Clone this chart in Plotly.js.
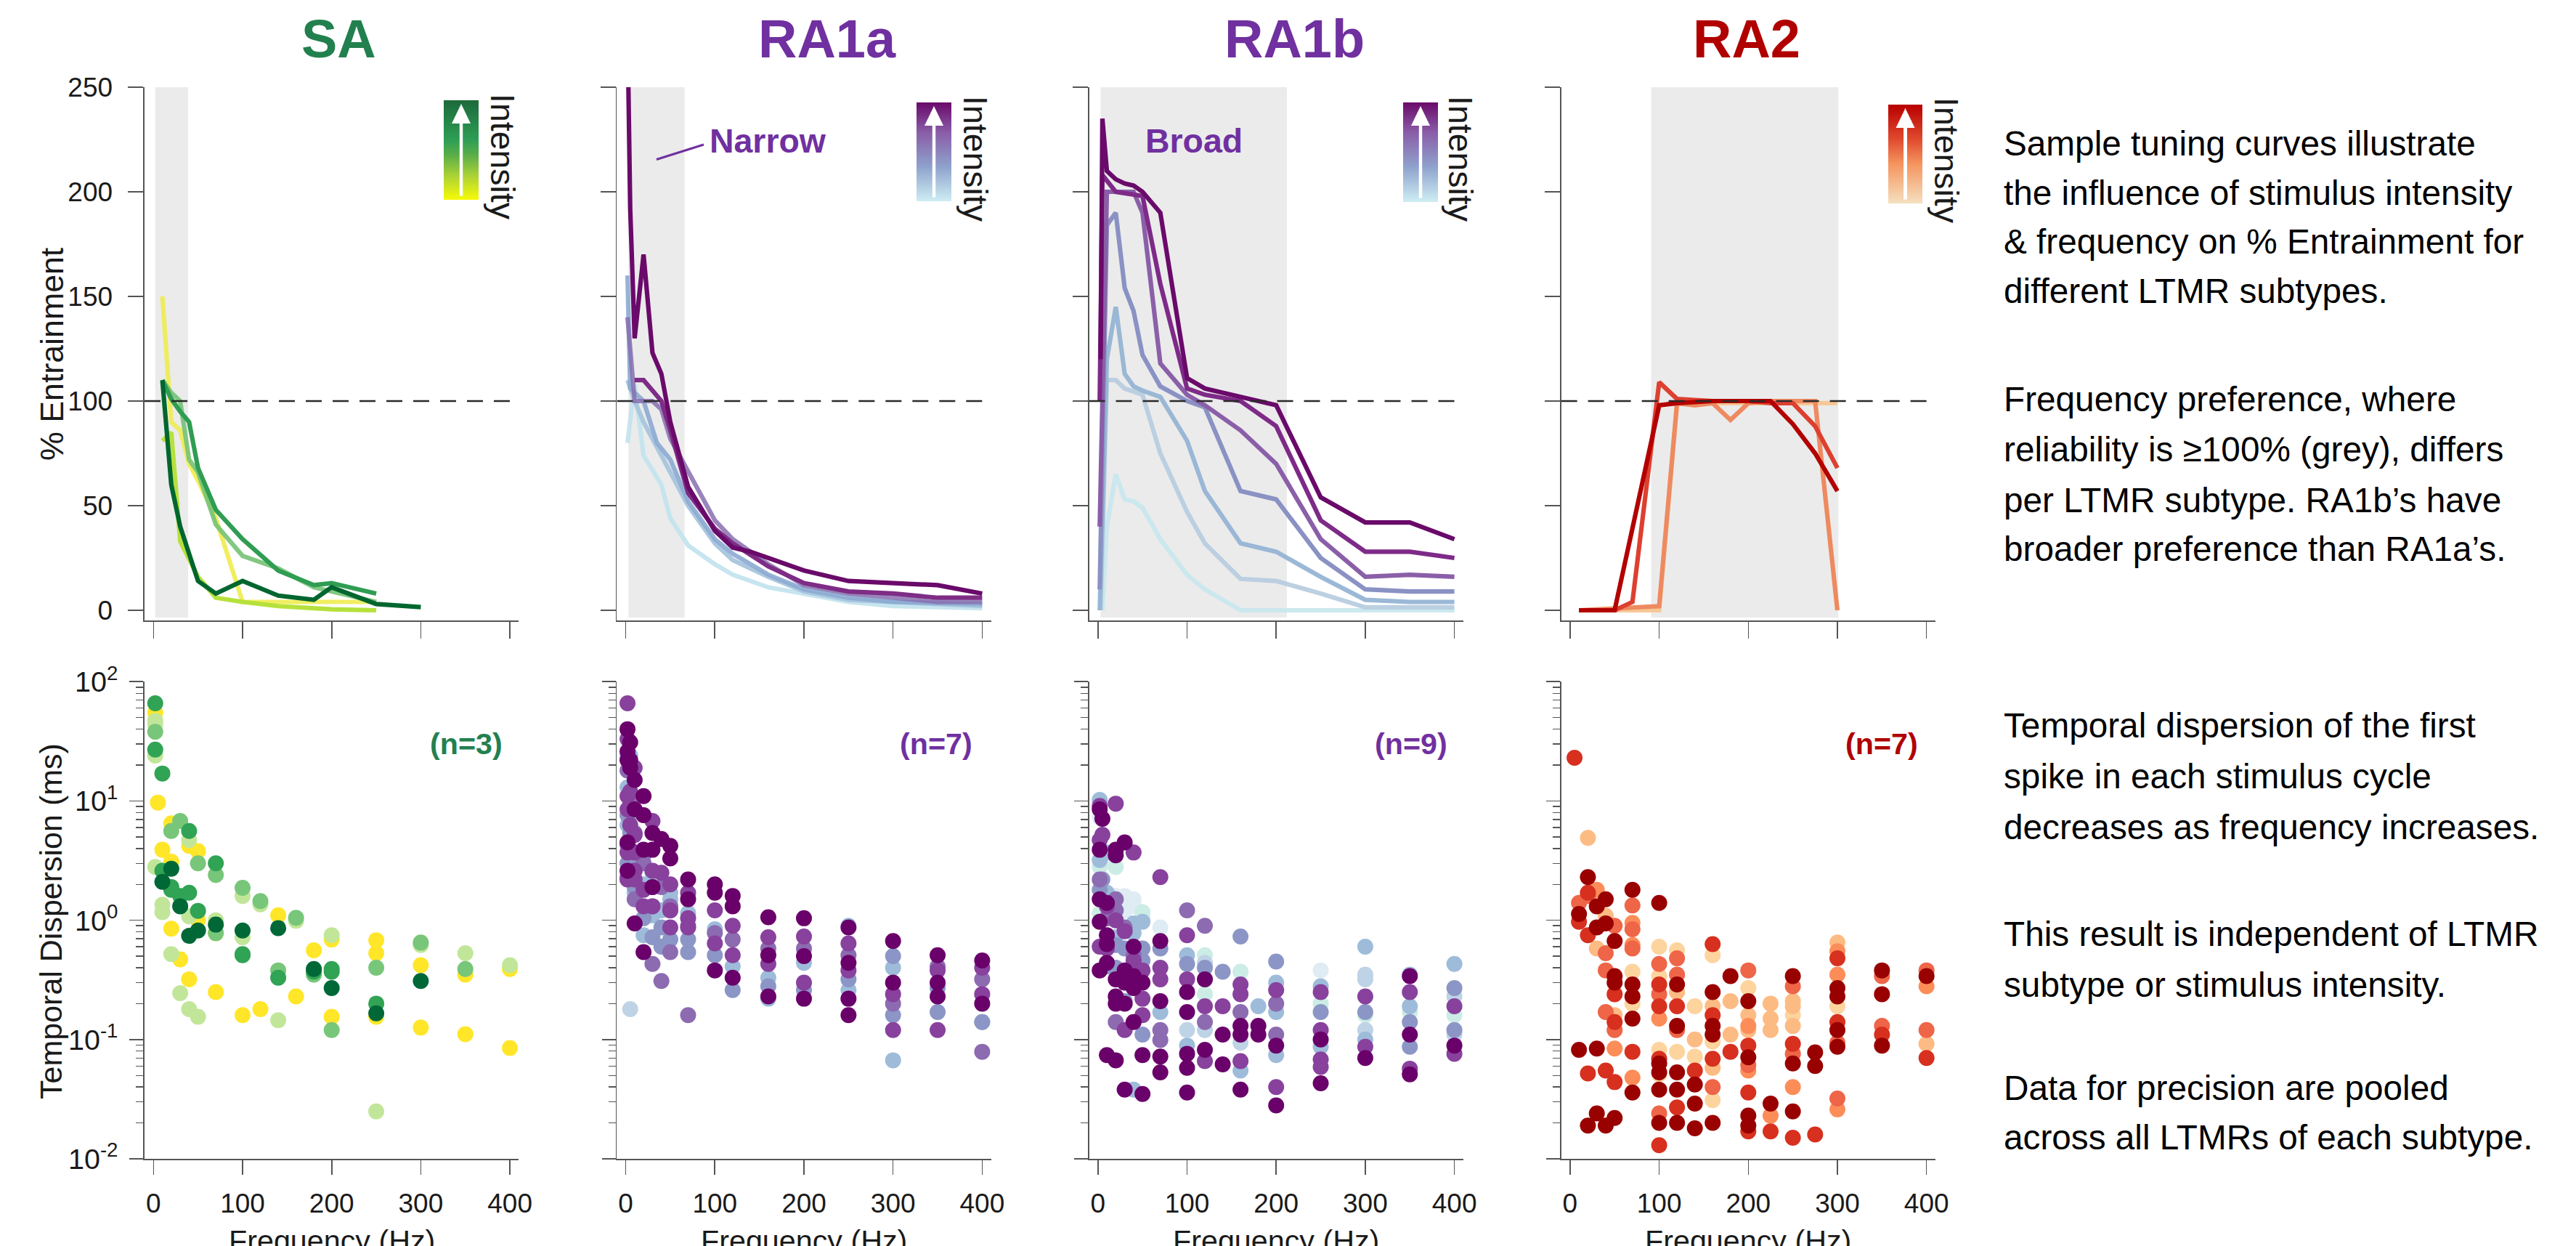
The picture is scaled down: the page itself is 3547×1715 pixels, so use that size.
<!DOCTYPE html>
<html><head><meta charset="utf-8">
<script src="https://cdn.plot.ly/plotly-3.0.1.min.js"></script>
<style>html,body{margin:0;padding:0;background:#fff;overflow:hidden}#chart{width:3547px;height:1715px}</style>
</head><body><div id="chart"></div>
<script>
// ================= DATA =================
const SUBTYPES = ['SA','RA1a','RA1b','RA2'];
const N_LABELS = ['(n=3)','(n=7)','(n=9)','(n=7)'];
const FREQ_TICKS = [0,100,200,300,400];
const ENT_TICKS = [0,50,100,150,200,250];
const TD_TICKS = [0.01,0.1,1,10,100];
const TD_TICKTEXT = ['10<sup>-2</sup>','10<sup>-1</sup>','10<sup>0</sup>','10<sup>1</sup>','10<sup>2</sup>'];
const PREF_BANDS = [[2,39],[3,66],[3,212],[91,301]];   // grey "preferred" frequency ranges (Hz)
const REF_LEVEL = 100;                                  // dashed 100 % line

// ---- % Entrainment tuning curves (Hz, %) ----
const sa_c1_hz=[10,20,30,40,50,70,100,140,200,250];          const sa_c1=[150,90,86,70,62,44,4,4,4,4];
const sa_c2_hz=[10,20,30,50,70,100,140,200,250];             const sa_c2=[81,85,33,16,6,4,2,0.5,0];
const sa_c3_hz=[10,20,30,40,50,70,100,140,180,200,250];      const sa_c3=[110,104,100,72,66,41,26,20,11,9,4];
const sa_c4_hz=[10,20,30,40,50,70,100,140,180,200,250];      const sa_c4=[110,101,95,90,68,48,34,19,12,13,8];
const sa_c5_hz=[10,20,30,40,50,70,100,140,180,200,250,300];  const sa_c5=[110,60,40,27,14,8,14,7,5,11,3,1.5];

const ra1a_c1_hz=[2,10,20,40,50,70,100,120,160,200,250,300,400];       const ra1a_c1=[80,108,74,60,44,31,22,17,11,8,4,2,1];
const ra1a_c2_hz=[2,10,20,40,50,70,100,120,160,200,250,400];           const ra1a_c2=[110,100,90,74,66,50,32,24,16,9,5,2];
const ra1a_c3_hz=[2,5,20,35,50,70,100,120,160,200,250,300,400];        const ra1a_c3=[160,106,100,80,72,52,34,27,17,10,6,4,3];
const ra1a_c4_hz=[2,10,30,40,50,70,100,120,160,200,250,300,350,400];   const ra1a_c4=[140,100,100,96,82,66,43,34,22,12,8,6,4,4];
const ra1a_c5_hz=[10,20,30,40,50,70,100,120,160,200,250,300,350,400];  const ra1a_c5=[110,110,105,100,86,56,39,32,21,13,9,8,6,6];
const ra1a_c6_hz=[3,5,10,20,30,40,50,70,100,120,140,160,180,200,250,300,350,400];
const ra1a_c6=[250,192,130,170,123,113,90,59,38,30,28,25,22,19,14,13,12,8];

const ra1b_c1_hz=[5,10,20,30,40,50,70,100,120,160,200,300,400];              const ra1b_c1=[0,40,65,53,52,49,34,17,10,0,0,0,0];
const ra1b_c2_hz=[3,10,20,30,50,70,100,120,160,200,250,300,400];             const ra1b_c2=[0,110,110,106,103,75,47,32,15,14,8,1.4,1.4];
const ra1b_c3_hz=[2,10,20,30,40,50,70,100,120,160,200,250,300,350,400];      const ra1b_c3=[0,120,145,113,107,105,102,81,57,32,28,16,5,4,4];
const ra1b_c4_hz=[2,10,20,30,40,50,70,100,120,160,200,250,300,350,400];      const ra1b_c4=[10,184,190,154,143,122,107,100,97,57,53,25,10,9,9];
const ra1b_c5_hz=[2,10,40,50,70,100,120,160,200,250,300,350,400];            const ra1b_c5=[40,200,200,190,118,103,98,86,70,34,16,17,16];
const ra1b_c6_hz=[2,5,20,50,70,100,120,160,200,250,300,350,400];             const ra1b_c6=[100,208,200,198,156,106,103,100,88,43,28,28,25];
const ra1b_c7_hz=[3,5,10,20,30,40,50,70,100,120,160,200,250,300,350,400];    const ra1b_c7=[120,235,210,206,204,203,200,190,111,106,102,98,54,42,42,34];

const ra2_c1_hz=[10,100,120,300];                               const ra2_c1=[0,0,99,99];
const ra2_c2_hz=[10,100,120,140,160,180,200,225,250,275,300];   const ra2_c2=[0,2,99,98,99,91,99,100,100,100,0];
const ra2_c3_hz=[10,50,70,100,120,160,200,225,250,275,300];     const ra2_c3=[0,0,4,109,101,100,100,99,99,88,68];
const ra2_c4_hz=[10,50,100,120,160,200,225,250,275,300];        const ra2_c4=[0,0,98,99,100,100,100,89,75,57];

// ---- Temporal dispersion (Hz, ms) ----
const sa_y_hz=[2,5,10,20,20,20,30,40,40,50,50,70,70,100,120,140,160,180,200,200,250,250,250,300,300,350,350,400,400];
const sa_y_ms=[55,9.7,3.9,6.5,3.1,0.85,0.47,4.2,0.32,3.8,1.0,0.78,0.25,0.16,0.18,1.1,0.23,0.56,0.69,0.155,0.68,0.53,0.155,0.42,0.126,0.35,0.111,0.39,0.085];
const sa_l_hz=[2,2,2,2,10,10,20,30,40,40,40,50,70,100,100,120,140,160,200,250,300,350,400];
const sa_l_ms=[47,44,24,2.8,1.35,1.17,0.52,0.245,4.7,1.08,0.18,0.155,1.0,1.6,0.72,1.36,0.145,0.99,0.75,0.025,0.62,0.53,0.42];
const sa_m_hz=[2,20,30,50,70,70,100,120,140,160,180,200,250,300,350];
const sa_m_ms=[38,5.6,6.8,3.0,2.4,0.78,1.87,1.45,0.38,1.05,0.35,0.12,0.40,0.65,0.39];
const sa_g_hz=[2,2,10,10,20,20,30,40,40,50,70,100,100,140,180,200,200,250];
const sa_g_ms=[66,27,17,2.6,1.9,1.8,1.6,5.6,1.7,1.2,3.0,0.52,0.51,0.33,0.37,0.39,0.37,0.20];
const sa_d_hz=[10,20,30,40,50,70,100,140,180,200,250,300];
const sa_d_ms=[2.1,2.7,1.31,0.74,0.82,0.92,0.82,0.86,0.39,0.27,0.166,0.31];

const ra1a_e_hz=[5]; const ra1a_e_ms=[0.18];
const ra1a_c_hz=[2,2,2,5,5,5,10,10,20,20,30,30,40,50,50,70,100,120,160,160,200,250,250,300,300,400];
const ra1a_c_ms=[13,24,6.3,24,2.4,7.6,3.0,1.7,0.75,2.0,2.5,1.1,1.21,1.7,1.5,1.15,0.84,0.41,0.33,0.22,0.44,0.90,0.26,0.40,0.067,0.14];
const ra1a_b_hz=[2,2,5,5,10,10,20,20,30,40,40,50,70,70,100,120,160,200,250,300,300,350,350,400];
const ra1a_b_ms=[7.6,3.0,5.4,2.8,1.9,3.3,1.04,3.5,0.72,0.60,0.87,0.69,0.69,0.54,0.51,0.26,0.28,0.26,0.32,0.50,0.16,0.27,0.17,0.14];
const ra1a_l_hz=[2,2,2,5,5,10,10,20,30,30,30,40,40,50,50,50,70,70,100,120,160,200,250,300,350,400,400];
const ra1a_l_ms=[18,4.3,2.3,10,3.9,5.4,1.5,3.0,1.31,1.9,0.43,1.9,0.31,1.21,1.31,0.54,0.90,0.16,0.78,0.69,0.58,0.58,0.51,0.20,0.41,0.32,0.079];
const ra1a_p_hz=[2,2,2,2,2,2,5,5,10,10,10,10,10,20,20,30,30,30,40,50,50,50,70,70,70,100,100,120,120,160,160,200,200,250,250,300,300,350,350,400,400];
const ra1a_p_ms=[66,33,11,8.5,3.7,2.2,6.3,12,19,3.7,2.6,2.2,5.2,1.8,1.31,6.8,2.6,1.31,2.5,2.0,1.21,0.87,1.7,1.04,0.87,1.21,0.64,0.90,0.51,0.72,0.43,0.73,0.30,0.64,0.38,0.24,0.12,0.38,0.12,0.40,0.24];
const ra1a_d_hz=[2,2,2,2,2,5,5,5,10,10,10,20,20,20,20,30,30,30,40,50,50,70,70,100,100,100,120,120,120,160,160,160,200,200,200,250,250,250,250,300,300,350,350,350,400,400];
const ra1a_d_ms=[40,26,22,4.5,2.6,31,19,22,15,8.5,0.94,11,7.6,3.9,0.54,5.4,3.9,1.9,4.8,4.2,3.3,2.2,1.5,2.0,1.7,0.38,1.6,1.31,0.33,1.06,0.51,0.23,1.04,0.50,0.22,0.87,0.44,0.22,0.16,0.67,0.30,0.51,0.30,0.23,0.46,0.20];

const ra1b_w_hz=[2,10,20,30,30,40,40,50,70,250,250];
const ra1b_w_ms=[7.3,3.1,1.6,1.6,1.2,1.5,1.31,1.04,0.87,0.38,0.096];
const ra1b_m_hz=[2,2,20,50,120,120,160,250,300,350,400];
const ra1b_m_ms=[2.8,1.14,2.8,1.17,0.51,0.24,0.37,0.20,0.16,0.17,0.16];
const ra1b_e_hz=[100,120,120,160,300,300,300,400,400];
const ra1b_e_ms=[0.12,0.44,0.12,0.094,0.35,0.32,0.12,0.23,0.11];
const ra1b_c_hz=[2,2,5,10,10,20,40,40,40,50,70,100,100,160,180,200,200,200,250,250,300,300,350,350,400];
const ra1b_c_ms=[10.2,3.2,1.7,3.7,1.7,0.72,0.94,0.78,0.038,0.97,0.17,0.51,0.089,0.055,0.19,0.30,0.17,0.074,0.28,0.087,0.60,0.10,0.35,0.19,0.43];
const ra1b_b_hz=[2,5,10,10,20,20,30,30,50,50,50,70,100,120,140,160,200,250,300,350,350,400,400];
const ra1b_b_ms=[1.8,2.2,0.41,1.04,0.40,0.62,0.21,0.58,0.58,0.46,0.11,0.58,0.43,0.40,0.37,0.73,0.45,0.17,0.17,0.14,0.087,0.27,0.12];
const ra1b_l_hz=[2,10,20,20,20,30,40,70,70,100,120,120,160,200,200];
const ra1b_l_ms=[2.2,1.04,1.5,1.21,0.14,0.87,0.51,0.12,0.099,1.21,0.90,0.14,0.17,0.20,0.11];
const ra1b_p_hz=[2,2,2,5,10,10,20,20,30,30,30,40,40,50,50,50,70,70,70,100,100,120,120,140,160,160,160,200,200,250,250,250,250,300,300,350,350,400,400];
const ra1b_p_ms=[9.1,4.7,0.60,5.2,0.58,1.31,9.5,1.0,0.81,0.12,0.32,3.7,0.46,0.38,0.16,0.22,2.3,0.40,0.32,0.75,0.32,0.19,0.066,0.19,0.29,0.24,0.066,0.26,0.040,0.25,0.12,0.068,0.059,0.23,0.087,0.25,0.057,0.19,0.076];
const ra1b_d_hz=[2,2,2,2,2,5,10,10,10,10,10,20,20,20,20,20,20,30,30,30,30,30,40,40,40,40,50,50,50,70,70,70,70,100,100,100,100,100,120,120,140,140,160,160,160,180,180,200,200,250,250,300,350,350,350,400];
const ra1b_d_ms=[8.5,3.9,1.5,0.97,0.38,7.1,0.75,0.63,0.44,0.074,1.4,3.9,3.5,0.32,0.20,0.067,0.23,4.5,0.38,0.30,0.038,0.20,0.60,0.27,0.14,0.34,0.30,0.074,0.035,0.67,0.21,0.072,0.053,0.25,0.17,0.076,0.058,0.036,0.32,0.082,0.11,0.062,0.13,0.11,0.038,0.13,0.11,0.089,0.028,0.10,0.043,0.070,0.34,0.11,0.051,0.089];

const ra2_p_hz=[70,70,100,100,100,100,120,120,140,140,160,160,160,200,250,300];
const ra2_p_ms=[0.37,0.20,0.60,0.34,0.082,0.051,0.56,0.079,0.19,0.072,0.51,0.096,0.031,0.27,0.16,0.19];
const ra2_l_hz=[20,30,40,50,120,140,160,160,180,180,200,200,225,225,225,250,250,250,300,400];
const ra2_l_ms=[4.9,0.58,1.09,0.16,0.25,0.10,0.19,0.058,0.21,0.11,0.16,0.12,0.20,0.15,0.12,0.21,0.19,0.13,0.65,0.092];
const ra2_a_hz=[30,50,70,70,70,100,200,200,225,250,300,300,300,400];
const ra2_a_ms=[1.8,0.084,0.95,0.62,0.048,0.15,0.13,0.055,0.023,0.040,0.55,0.35,0.026,0.28];
const ra2_o_hz=[10,20,40,40,40,50,50,70,70,70,100,100,100,120,120,120,160,200,200,250,250,300,300,350,350,400,400];
const ra2_o_ms=[1.4,1.6,0.53,0.38,0.17,0.90,0.12,1.33,0.84,0.58,0.43,0.24,0.024,0.48,0.35,0.12,0.040,0.38,0.061,0.28,0.076,0.094,0.032,0.34,0.13,0.38,0.12];
const ra2_r_hz=[5,10,20,20,20,40,50,50,50,70,100,100,100,100,120,120,140,160,160,160,180,200,200,200,225,250,250,275,300,300,350,400];
const ra2_r_ms=[23,0.97,1.7,0.75,0.052,0.055,0.24,0.14,0.044,0.079,0.29,0.19,0.069,0.013,0.19,0.027,0.055,0.63,0.16,0.069,0.079,0.089,0.036,0.017,0.017,0.092,0.015,0.016,0.48,0.14,0.11,0.070];
const ra2_d_hz=[10,10,20,20,30,30,30,30,40,40,40,50,50,50,50,70,70,70,70,70,100,100,100,100,100,120,120,120,120,120,140,140,140,160,160,160,160,180,200,200,200,200,225,250,250,250,275,275,300,300,300,300,350,350,350,400];
const ra2_d_ms=[1.13,0.082,2.3,0.019,1.31,0.87,0.084,0.024,1.5,0.94,0.019,0.67,0.34,0.30,0.022,1.8,0.29,0.23,0.15,0.036,1.4,0.063,0.053,0.038,0.020,0.29,0.13,0.053,0.038,0.020,0.042,0.029,0.018,0.25,0.13,0.11,0.020,0.34,0.21,0.071,0.023,0.019,0.029,0.34,0.063,0.025,0.078,0.060,0.27,0.23,0.12,0.087,0.38,0.24,0.089,0.34];

const NOTE_LINES_1 = ['Sample tuning curves illustrate','the influence of stimulus intensity','& frequency on % Entrainment for','different LTMR subtypes.'];
const NOTE_LINES_2 = ['Frequency preference, where','reliability is \u2265100% (grey), differs','per LTMR subtype. RA1b\u2019s have','broader preference than RA1a\u2019s.'];
const NOTE_LINES_3 = ['Temporal dispersion of the first','spike in each stimulus cycle','decreases as frequency increases.'];
const NOTE_LINES_4 = ['This result is independent of LTMR','subtype or stimulus intensity.'];
const NOTE_LINES_5 = ['Data for precision are pooled','across all LTMRs of each subtype.'];

// ================= STYLE / LAYOUT =================
const W=3547, H=1715;
function fontAvailable(name){
  const c=document.createElement('canvas').getContext('2d');
  const s='Intensity 0123456789 WmwmilI';
  c.font='40px monospace'; const a=c.measureText(s).width;
  c.font='40px "'+name+'", monospace'; const b=c.measureText(s).width;
  return Math.abs(a-b)>0.5;
}
const HAS_NARROW = fontAvailable('Liberation Sans Narrow');
const NF = HAS_NARROW ? '"Liberation Sans Narrow", "Arial Narrow", sans-serif' : '"Liberation Sans", Arial, sans-serif';
const NS = HAS_NARROW ? 1 : 0.86;
const TXT='#1a1a1a', AX='#555555';

const ZERO_PX=[211.3, 861.6, 1511.8, 2161.9];
const PX_PER_HZ=1.227;
const TOP_Y=[120, 854.4];           // pixel rows of top panel (250 .. -5)
const BOT_Y=[938.3, 1595];          // pixel rows of bottom panel (1e2 .. 1e-2)
const TITLE_COLORS=['#22804f','#7030a0','#7030a0','#b00000'];
const TITLE_X=[466,1139,1783,2405];
const NLAB_X=[642,1289,1943,2591];

const COLORS = {
  sa_lines:['rgba(238,236,80,0.9)','#b6e13c','rgba(116,194,118,0.9)','#2f9d52','#00662f'],
  ra1a_lines:['rgba(196,228,238,0.95)','rgba(168,197,221,0.95)','rgba(140,170,210,0.9)','rgba(135,110,175,0.85)','#7e2c86','#6a0a6a'],
  ra1b_lines:['rgba(200,232,238,0.95)','rgba(184,206,224,0.95)','rgba(150,180,212,0.95)','#8a92c4','#8a5fa8','#7e2a88','#6a0a6a'],
  ra2_lines:['#f6c896','#ee8a60','#dd4030','#b30000'],
};
const BAR_STOPS = [
  [[0,'#1c6a3b'],[0.4,'#2e9e55'],[0.55,'#5aae48'],[0.78,'#b3d634'],[1,'#f7fb06']],
  [[0,'#6b0a6b'],[0.3,'#8a5da8'],[0.65,'#8fa3cd'],[1,'#cfeef4']],
  [[0,'#6b0a6b'],[0.3,'#8a5da8'],[0.65,'#8fa3cd'],[1,'#cfeef4']],
  [[0,'#b80000'],[0.35,'#e04a2e'],[0.6,'#f5955f'],[1,'#f5e0bf']]
];
const BAR_BOX=[[611,138,48,137],[1262,141,48,136],[1932,141,48,137],[2600,144,47,136]];
const INT_POS=[[692,216],[1343,219],[2011,219],[2680,221]];

const xp=v=>v/W, yp=v=>1-v/H;
const id=(p,n)=>p+(n===1?'':n);

const curves = [
  [[sa_c1_hz,sa_c1],[sa_c2_hz,sa_c2],[sa_c3_hz,sa_c3],[sa_c4_hz,sa_c4],[sa_c5_hz,sa_c5]],
  [[ra1a_c1_hz,ra1a_c1],[ra1a_c2_hz,ra1a_c2],[ra1a_c3_hz,ra1a_c3],[ra1a_c4_hz,ra1a_c4],[ra1a_c5_hz,ra1a_c5],[ra1a_c6_hz,ra1a_c6]],
  [[ra1b_c1_hz,ra1b_c1],[ra1b_c2_hz,ra1b_c2],[ra1b_c3_hz,ra1b_c3],[ra1b_c4_hz,ra1b_c4],[ra1b_c5_hz,ra1b_c5],[ra1b_c6_hz,ra1b_c6],[ra1b_c7_hz,ra1b_c7]],
  [[ra2_c1_hz,ra2_c1],[ra2_c2_hz,ra2_c2],[ra2_c3_hz,ra2_c3],[ra2_c4_hz,ra2_c4]]
];
const curveColors=[COLORS.sa_lines,COLORS.ra1a_lines,COLORS.ra1b_lines,COLORS.ra2_lines];

const dots = [
  [[sa_y_hz,sa_y_ms,'#ffe629'],[sa_l_hz,sa_l_ms,'#c2e699'],[sa_m_hz,sa_m_ms,'#78c679'],[sa_g_hz,sa_g_ms,'#31a354'],[sa_d_hz,sa_d_ms,'#006837']],
  [[ra1a_e_hz,ra1a_e_ms,'#bfd3e6'],[ra1a_c_hz,ra1a_c_ms,'#9ebcda'],[ra1a_b_hz,ra1a_b_ms,'#8c96c6'],[ra1a_l_hz,ra1a_l_ms,'#8c6bb1'],[ra1a_p_hz,ra1a_p_ms,'#88419d'],[ra1a_d_hz,ra1a_d_ms,'#6a006a']],
  [[ra1b_w_hz,ra1b_w_ms,'#e0ecf4'],[ra1b_m_hz,ra1b_m_ms,'#ccece6'],[ra1b_e_hz,ra1b_e_ms,'#bfd3e6'],[ra1b_c_hz,ra1b_c_ms,'#9ebcda'],[ra1b_b_hz,ra1b_b_ms,'#8c96c6'],[ra1b_l_hz,ra1b_l_ms,'#8c6bb1'],[ra1b_p_hz,ra1b_p_ms,'#88419d'],[ra1b_d_hz,ra1b_d_ms,'#6a006a']],
  [[ra2_p_hz,ra2_p_ms,'#fdd49e'],[ra2_l_hz,ra2_l_ms,'#fdbb84'],[ra2_a_hz,ra2_a_ms,'#fc8d59'],[ra2_o_hz,ra2_o_ms,'#ef6548'],[ra2_r_hz,ra2_r_ms,'#d7301f'],[ra2_d_hz,ra2_d_ms,'#990000']]
];

const MINOR=[];
for(let e=-2;e<2;e++){ for(let k=2;k<=9;k++){ MINOR.push(k*Math.pow(10,e)); } }

const traces=[];
const layout={
  width:W,height:H,margin:{l:0,r:0,t:0,b:0},paper_bgcolor:'#fff',plot_bgcolor:'rgba(0,0,0,0)',
  showlegend:false,hovermode:false,font:{family:NF,color:TXT},
  shapes:[],annotations:[],images:[]
};

function barImage(stops,w,h){
  const s=3;
  const cv=document.createElement('canvas'); cv.width=w*s; cv.height=h*s;
  const g=cv.getContext('2d'); g.scale(s,s);
  const gr=g.createLinearGradient(0,0,0,h);
  stops.forEach(st=>gr.addColorStop(st[0],st[1]));
  g.fillStyle=gr; g.fillRect(0,0,w,h);
  g.fillStyle='#ffffff';
  const cx=w/2, top=5, headH=27, headW=13, stemW=2.2, bot=h-5.5;
  g.beginPath(); g.moveTo(cx,top); g.lineTo(cx+headW,top+headH); g.lineTo(cx+stemW,top+headH);
  g.lineTo(cx+stemW,bot); g.lineTo(cx-stemW,bot); g.lineTo(cx-stemW,top+headH); g.lineTo(cx-headW,top+headH); g.closePath(); g.fill();
  return cv.toDataURL('image/png');
}

function ann(x,y,text,size,opt){
  return Object.assign({xref:'paper',yref:'paper',x:xp(x),y:yp(y),text:text,showarrow:false,
    xanchor:'center',yanchor:'middle',font:{family:NF,size:size*NS,color:TXT}},opt||{});
}

const axCommon={showline:true,linecolor:AX,linewidth:1.6,ticks:'outside',tickcolor:AX,tickwidth:1.6,
  showgrid:false,zeroline:false,fixedrange:true,tickfont:{family:NF,size:43*NS,color:TXT}};

SUBTYPES.forEach((name,i)=>{
  const nt=i+1, nb=i+5;
  const x0=ZERO_PX[i]-10*PX_PER_HZ, x1=ZERO_PX[i]+410*PX_PER_HZ;
  layout[id('xaxis',nt)]=Object.assign({},axCommon,{domain:[xp(x0),xp(x1)],range:[-10,410],anchor:id('y',nt),
    tickmode:'array',tickvals:FREQ_TICKS,ticklen:23,showticklabels:false});
  layout[id('yaxis',nt)]=Object.assign({},axCommon,{domain:[yp(TOP_Y[1]),yp(TOP_Y[0])],range:[-5,250],anchor:id('x',nt),
    tickmode:'array',tickvals:ENT_TICKS,ticklen:21,showticklabels:i===0,ticklabelstandoff:14});
  layout[id('xaxis',nb)]=Object.assign({},axCommon,{domain:[xp(x0),xp(x1)],range:[-10,410],anchor:id('y',nb),
    tickmode:'array',tickvals:FREQ_TICKS,ticklen:20,showticklabels:true,ticklabelstandoff:8});
  layout[id('yaxis',nb)]=Object.assign({},axCommon,{type:'log',domain:[yp(BOT_Y[1]),yp(BOT_Y[0])],range:[-2,2],anchor:id('x',nb),
    tickmode:'array',tickvals:TD_TICKS,ticktext:TD_TICKTEXT,ticklen:19,showticklabels:i===0,ticklabelstandoff:8,
    tickfont:{family:NF,size:46*NS,color:TXT},
    minor:{tickmode:'array',tickvals:MINOR,ticks:'outside',ticklen:10,tickwidth:1.4,tickcolor:AX,showgrid:false}});

  layout.shapes.push({type:'rect',xref:id('x',nt),yref:id('y',nt),x0:PREF_BANDS[i][0],x1:PREF_BANDS[i][1],y0:-3.5,y1:251,
    fillcolor:'#ebebeb',line:{width:0},layer:'below'});
  layout.shapes.push({type:'line',xref:id('x',nt),yref:id('y',nt),x0:-10,x1:400,y0:REF_LEVEL,y1:REF_LEVEL,
    line:{color:'#2a2a2a',width:2.6,dash:'22px,15px'},layer:'above'});

  curves[i].forEach((c,k)=>{
    traces.push({type:'scatter',mode:'lines',x:c[0],y:c[1],xaxis:id('x',nt),yaxis:id('y',nt),
      line:{color:curveColors[i][k],width:6.2,shape:'linear'},hoverinfo:'skip'});
  });
  dots[i].forEach(d=>{
    traces.push({type:'scatter',mode:'markers',x:d[0],y:d[1],xaxis:id('x',nb),yaxis:id('y',nb),
      marker:{size:22,color:d[2],line:{width:0}},hoverinfo:'skip'});
  });

  layout.annotations.push(ann(TITLE_X[i],54,'<b>'+name+'</b>',86,{font:{family:NF,size:86*NS,color:TITLE_COLORS[i]}}));
  layout.annotations.push(ann(NLAB_X[i],1024,'<b>'+N_LABELS[i]+'</b>',48,{font:{family:NF,size:48*NS,color:TITLE_COLORS[i]}}));
  layout.annotations.push(ann(ZERO_PX[i]+200*PX_PER_HZ,1708,'Frequency (Hz)',48));
  const bb=BAR_BOX[i];
  layout.images.push({source:barImage(BAR_STOPS[i],bb[2],bb[3]),xref:'paper',yref:'paper',x:xp(bb[0]),y:yp(bb[1]),
    sizex:bb[2]/W,sizey:bb[3]/H,sizing:'stretch',xanchor:'left',yanchor:'top',layer:'above'});
  layout.annotations.push(ann(INT_POS[i][0],INT_POS[i][1],'Intensity',54,{textangle:90}));
});

layout.annotations.push(ann(72,487,'% Entrainment',52,{textangle:-90}));
layout.annotations.push(ann(70,1268,'Temporal Dispersion (ms)',50,{textangle:-90}));
layout.annotations.push(ann(1057,194,'<b>Narrow</b>',54,{font:{family:NF,size:54*NS,color:'#7030a0'}}));
layout.annotations.push(ann(1644,194,'<b>Broad</b>',54,{font:{family:NF,size:54*NS,color:'#7030a0'}}));
layout.shapes.push({type:'line',xref:'paper',yref:'paper',x0:xp(904),y0:yp(219.5),x1:xp(969),y1:yp(199),line:{color:'#7030a0',width:3.2}});

const NOTES=[[NOTE_LINES_1,[197,265,333,401]],[NOTE_LINES_2,[550,618,688,755]],[NOTE_LINES_3,[998,1068,1138]],[NOTE_LINES_4,[1285,1355]],[NOTE_LINES_5,[1497,1565]]];
NOTES.forEach(n=>n[0].forEach((t,j)=>layout.annotations.push(ann(2757,n[1][j],t,55.5,{xanchor:'left',font:{family:NF,size:55.5*NS,color:'#000'}}))));

Plotly.newPlot('chart',traces,layout,{displayModeBar:false,staticPlot:true});
</script></body></html>
